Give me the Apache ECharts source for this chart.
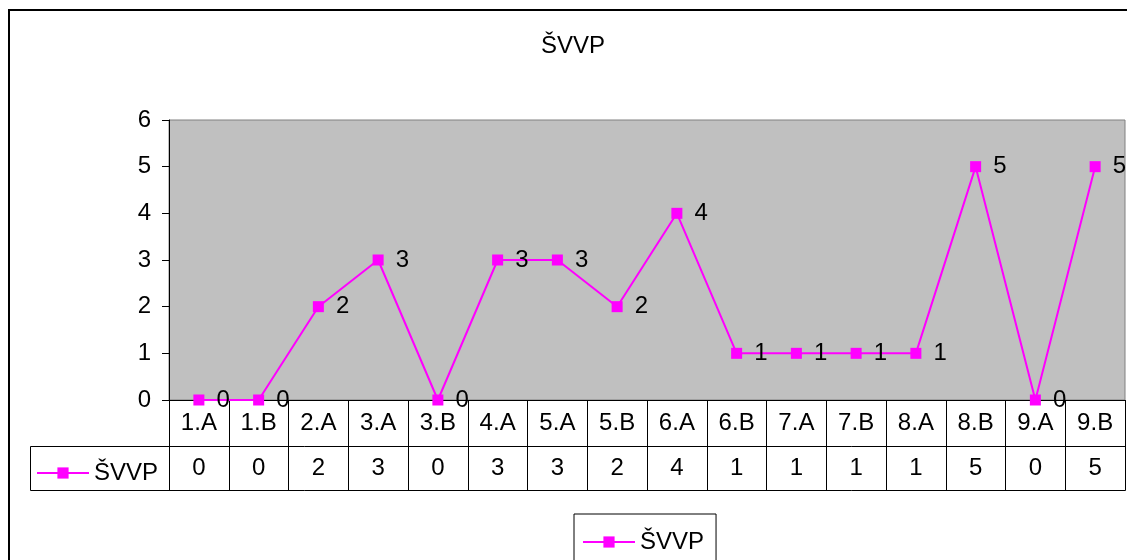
<!DOCTYPE html>
<html>
<head>
<meta charset="utf-8">
<script src="https://cdn.jsdelivr.net/npm/echarts@6/dist/echarts.min.js"></script>
<style>
  html, body { margin: 0; padding: 0; background: #fff; }
  #chart { width: 1127px; height: 560px; }
</style>
</head>
<body>
<div id="chart"></div>
<script>
const categories = ['1.A', '1.B', '2.A', '3.A', '3.B', '4.A', '5.A', '5.B', '6.A', '6.B', '7.A', '7.B', '8.A', '8.B', '9.A', '9.B']
const seriesName = 'ŠVVP'
const values = [0, 0, 2, 3, 0, 3, 3, 2, 4, 1, 1, 1, 1, 5, 0, 5]
const yTicks = { min: 0, max: 6, interval: 1 }

const font = '"Liberation Sans", Arial, sans-serif'
const fs = 24
const chart = echarts.init(document.getElementById('chart'))

const option = {
  backgroundColor: '#fff',
  textStyle: { fontFamily: font },
  title: {
    text: seriesName,
    left: 541,
    top: 34,
    padding: 0,
    textStyle: { fontFamily: font, fontSize: fs, fontWeight: 'normal', color: '#000' }
  },
  legend: [
    {
      // key inside the data table
      data: [seriesName],
      left: 36,
      top: 461,
      padding: 0,
      itemWidth: 52,
      itemHeight: 14,
      textStyle: { fontFamily: font, fontSize: fs, color: '#000' }
    },
    {
      data: [seriesName],
      left: 574,
      top: 514,
      padding: [16, 12, 16, 8],
      borderColor: '#000',
      borderWidth: 1,
      itemWidth: 52,
      itemHeight: 14,
      textStyle: { fontFamily: font, fontSize: fs, color: '#000' }
    }
  ],
  grid: {
    left: 169,
    top: 120,
    right: 2,
    bottom: 160,
    show: true,
    backgroundColor: '#C0C0C0',
    borderColor: '#808080',
    borderWidth: 1
  },
  xAxis: [
    {
      type: 'category',
      data: categories,
      boundaryGap: true,
      axisLine: { lineStyle: { color: '#000', width: 1 } },
      axisTick: { show: true, interval: 0, length: 90, lineStyle: { color: '#000' } },
      axisLabel: { interval: 0, margin: 11, fontFamily: font, fontSize: fs, color: '#000' },
      splitLine: { show: false }
    },
    {
      type: 'category',
      data: categories,
      position: 'bottom',
      offset: 46,
      axisLine: { show: false },
      axisTick: { show: false },
      axisLabel: {
        interval: 0,
        margin: 10,
        fontFamily: font,
        fontSize: fs,
        color: '#000',
        formatter: (v, i) => String(values[i])
      },
      splitLine: { show: false }
    }
  ],
  yAxis: {
    type: 'value',
    min: yTicks.min,
    max: yTicks.max,
    interval: yTicks.interval,
    axisLine: { show: true, lineStyle: { color: '#000' } },
    axisTick: { show: true, length: 7, lineStyle: { color: '#000' } },
    axisLabel: { margin: 18, fontFamily: font, fontSize: fs, color: '#000' },
    splitLine: { show: false }
  },
  graphic: [
    {
      type: 'rect',
      silent: true,
      z: -1,
      shape: { x: 9, y: 10, width: 1200, height: 600 },
      style: { fill: 'none', stroke: '#000', lineWidth: 2 }
    },
    {
      type: 'rect',
      silent: true,
      shape: { x: 30.5, y: 446.5, width: 1095, height: 44 },
      style: { fill: 'none', stroke: '#000', lineWidth: 1 }
    }
  ],
  series: [
    {
      name: seriesName,
      type: 'line',
      data: values,
      color: '#FF00FF',
      symbol: 'rect',
      symbolSize: 11,
      showAllSymbol: true,
      clip: false,
      lineStyle: { color: '#FF00FF', width: 2 },
      itemStyle: { color: '#FF00FF' },
      label: {
        show: true,
        position: 'right',
        distance: 12,
        fontFamily: font,
        fontSize: fs,
        color: '#000'
      },
      emphasis: { disabled: true },
      animation: false
    }
  ],
  animation: false
}

chart.setOption(option)
</script>
</body>
</html>
